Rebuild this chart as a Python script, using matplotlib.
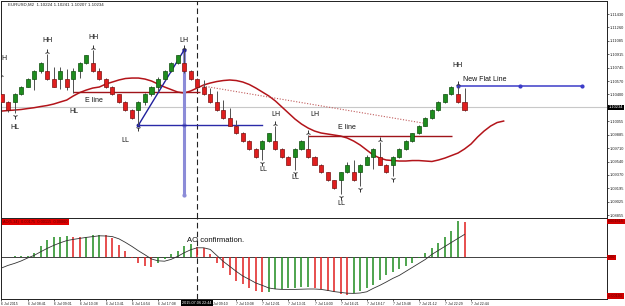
import numpy as np
import matplotlib
matplotlib.use("Agg")
from matplotlib import pyplot as plt
from matplotlib import transforms

plt.rcParams['font.family'] = ['Liberation Sans', 'DejaVu Sans']

# renko bricks (EURUSD, 10 pip bricks)
opens = [1.1040, 1.1030, 1.1030, 1.1040, 1.1050, 1.1060, 1.1070, 1.1070, 1.1060, 1.1060,
         1.1060, 1.1060, 1.1070, 1.1080, 1.1080, 1.1070, 1.1060, 1.1050, 1.1040, 1.1030,
         1.1020, 1.1020, 1.1030, 1.1040, 1.1050, 1.1060, 1.1070, 1.1080, 1.1080, 1.1070,
         1.1060, 1.1050, 1.1040, 1.1030, 1.1020, 1.1010, 1.1000, 1.0990, 1.0980, 1.0970,
         1.0970, 1.0980, 1.0980, 1.0970, 1.0960, 1.0960, 1.0970, 1.0970, 1.0960, 1.0950,
         1.0940, 1.0930, 1.0930, 1.0940, 1.0940, 1.0940, 1.0950, 1.0960, 1.0960, 1.0950,
         1.0950, 1.0960, 1.0970, 1.0980, 1.0990, 1.1000, 1.1010, 1.1020, 1.1030, 1.1040,
         1.1040, 1.1030]
closes = [1.1030, 1.1020, 1.1040, 1.1050, 1.1060, 1.1070, 1.1080, 1.1060, 1.1050, 1.1070,
          1.1050, 1.1070, 1.1080, 1.1090, 1.1070, 1.1060, 1.1050, 1.1040, 1.1030, 1.1020,
          1.1010, 1.1030, 1.1040, 1.1050, 1.1060, 1.1070, 1.1080, 1.1090, 1.1070, 1.1060,
          1.1050, 1.1040, 1.1030, 1.1020, 1.1010, 1.1000, 1.0990, 1.0980, 1.0970, 1.0960,
          1.0980, 1.0990, 1.0970, 1.0960, 1.0950, 1.0970, 1.0980, 1.0960, 1.0950, 1.0940,
          1.0930, 1.0920, 1.0940, 1.0950, 1.0930, 1.0950, 1.0960, 1.0970, 1.0950, 1.0940,
          1.0960, 1.0970, 1.0980, 1.0990, 1.1000, 1.1010, 1.1020, 1.1030, 1.1040, 1.1050,
          1.1030, 1.1020]
highs = [1.1062, 1.1032, 1.1042, 1.1051, 1.1061, 1.1071, 1.1081, 1.1092, 1.1075, 1.1075,
         1.1073, 1.1074, 1.1081, 1.1091, 1.1097, 1.1074, 1.1061, 1.1051, 1.1041, 1.1031,
         1.1021, 1.1031, 1.1042, 1.1051, 1.1062, 1.1071, 1.1081, 1.1091, 1.1097, 1.1071,
         1.1061, 1.1059, 1.1048, 1.1044, 1.1033, 1.1022, 1.1007, 1.0992, 1.0981, 1.0971,
         1.0981, 1.0991, 1.0999, 1.0971, 1.0961, 1.0971, 1.0981, 1.0988, 1.0961, 1.0951,
         1.0941, 1.0931, 1.0941, 1.0953, 1.0956, 1.0951, 1.0962, 1.0971, 1.0979, 1.0951,
         1.0961, 1.0971, 1.0981, 1.0991, 1.1001, 1.1011, 1.1021, 1.1031, 1.1041, 1.1051,
         1.1051, 1.1048]
lows = [1.1029, 1.1018, 1.1016, 1.1039, 1.1049, 1.1046, 1.1067, 1.1059, 1.1049, 1.1047,
        1.1046, 1.1042, 1.1061, 1.1079, 1.1069, 1.1058, 1.1048, 1.1039, 1.1029, 1.1019,
        1.1009, 1.1001, 1.1027, 1.1038, 1.1044, 1.1059, 1.1069, 1.1079, 1.1068, 1.1059,
        1.1049, 1.1039, 1.1029, 1.1019, 1.1009, 1.0999, 1.0989, 1.0979, 1.0969, 1.0959,
        1.0956, 1.0979, 1.0969, 1.0959, 1.0949, 1.0943, 1.0969, 1.0959, 1.0949, 1.0939,
        1.0929, 1.0919, 1.0913, 1.0939, 1.0929, 1.0923, 1.0949, 1.0945, 1.0949, 1.0939,
        1.0936, 1.0959, 1.0969, 1.0979, 1.0989, 1.0999, 1.1009, 1.1019, 1.1029, 1.1039,
        1.1029, 1.1019]

# shifted moving average (runs 6 bars past the last brick)
ma = [1.10187, 1.10194, 1.10200, 1.10207, 1.10219, 1.10230, 1.10245, 1.10258, 1.10277, 1.10303,
      1.10328, 1.10380, 1.10424, 1.10456, 1.10482, 1.10495, 1.10533, 1.10559, 1.10585, 1.10604,
      1.10610, 1.10610, 1.10597, 1.10572, 1.10533, 1.10495, 1.10463, 1.10431, 1.10418, 1.10444,
      1.10482, 1.10521, 1.10546, 1.10565, 1.10578, 1.10585, 1.10578, 1.10559, 1.10527, 1.10482,
      1.10431, 1.10380, 1.10316, 1.10239, 1.10162, 1.10085, 1.10021, 1.09970, 1.09931, 1.09906,
      1.09893, 1.09880, 1.09867, 1.09842, 1.09803, 1.09752, 1.09688, 1.09624, 1.09585, 1.09560,
      1.09553, 1.09547, 1.09547, 1.09553, 1.09553, 1.09547, 1.09541, 1.09560, 1.09585, 1.09617,
      1.09649, 1.09701, 1.09765, 1.09854, 1.09931, 1.09995, 1.10040, 1.10059]

# awesome oscillator + its signal, in points (1e-5)
ao = [3, 4, 5, 6, 8, 24, 57, 87, 100, 104, 105, 102, 100, 104, 112, 113, 110, 95, 62, 32,
      -3, -30, -44, -47, -30, -10, 15, 32, 59, 65, 54, 45, 15, -29, -55, -89, -117, -134, -155, -167,
      -175, -172, -160, -158, -155, -153, -150, -148, -153, -160, -168, -175, -183, -188, -180, -170,
      -155, -139, -114, -89, -72, -60, -44, -27, -5, 20, 45, 70, 100, 130, 180, 175]
ao_signal = [-53, -40, -30, -18, -3, 10, 28, 45, 60, 73, 84, 90, 95, 100, 104, 108, 107, 104, 93, 75,
             55, 33, 13, -8, -17, -19, -10, 5, 23, 38, 48, 48, 40, 10, -20, -45, -70, -93, -110, -128,
             -140, -153, -158, -160, -160, -160, -159, -158, -158, -160, -165, -171, -175, -179, -180,
             -178, -172, -155, -140, -123, -105, -90, -70, -50, -30, -10, 15, 35, 55, 75, 95, 115]

price_ticks = [1.11430, 1.11260, 1.11085, 1.10915, 1.10745, 1.10570, 1.10400, 1.10055,
               1.09885, 1.09710, 1.09540, 1.09370, 1.09195, 1.09025, 1.08855]
time_labels = ["6 Jul 2015", "6 Jul 08:41", "6 Jul 09:01", "6 Jul 10:38", "6 Jul 13:41",
               "6 Jul 14:54", "6 Jul 17:08", "", "7 Jul 09:10", "7 Jul 10:08", "7 Jul 12:01",
               "7 Jul 13:31", "7 Jul 14:00", "7 Jul 16:21", "7 Jul 18:17", "7 Jul 19:48",
               "7 Jul 21:12", "7 Jul 22:29", "7 Jul 22:44"]

last_price = 1.10234
marks = [("H", 0.45, 1.10866), ("HL", 2, 1.09970), ("HH", 7, 1.11097), ("HL", 11.1, 1.10175),
         ("E line", 14.1, 1.10328), ("HH", 14.1, 1.11135), ("LL", 19, 1.09816), ("LH", 28.05, 1.11097),
         ("LL", 40.1, 1.09444), ("LH", 42.1, 1.10149), ("LL", 45.05, 1.09342), ("LH", 48, 1.10149),
         ("E line", 53, 1.09982), ("LL", 52.1, 1.09009), ("HH", 70, 1.10777)]
up_arrows = [0, 7, 14, 28, 42, 47, 58, 70]
down_arrows = [2, 21, 40, 45, 52, 55, 60]

opens, closes, highs, lows = map(np.array, (opens, closes, highs, lows))
x = np.arange(len(opens))
W, H = 625, 306
fig = plt.figure(figsize=(W / 100, H / 100), dpi=100)
ax = fig.add_axes([1.5 / W, (H - 218) / H, (607 - 1.5) / W, 217 / H])
ax2 = fig.add_axes([1.5 / W, (H - 299) / H, (607 - 1.5) / W, 81 / H], sharex=ax)

ax.set_xlim(0.1, 92.85)
ax.set_ylim(1.08817, 1.11597)

# current price line
ax.axhline(last_price, color='#c8c8c8', lw=0.8, zorder=1)

# MA and E lines
ax.plot(np.arange(len(ma)), ma, color='#b3141a', lw=1.1, zorder=2)
ax.hlines(1.10426, 11, 30.5, color='#a0141a', lw=1.0, zorder=2)
ax.hlines(1.09867, 47, 69.1, color='#a0141a', lw=1.0, zorder=2)
ax.plot([30.9, 64.6], [1.10508, 1.10034], color='#c05a5a', lw=0.8, ls=(0, (1, 1.5)), zorder=2)

# blue study lines
ax.plot([28, 28], [1.10969, 1.09111], color='#8c8cd8', lw=2.2, zorder=2,
        marker='o', ms=2, markevery=[0, 1])
ax.plot([28], [1.10007], 'o', color='#6a6ac8', ms=2, zorder=3)
ax.plot([21, 28], [1.10007, 1.10969], color='#20209c', lw=1.0, zorder=4, marker='o', ms=1.8)
ax.plot([21, 40], [1.10007, 1.10007], color='#2a2aa8', lw=1.0, zorder=4)
ax.plot([70, 79.5, 89], [1.10508] * 3, color='#3c3cc8', lw=1.1, marker='o', ms=2, zorder=4)

# candles
up = closes >= opens
ax.vlines(x, lows, highs, color='#505050', lw=0.7, zorder=5)
ax.bar(x[up], (closes - opens)[up], bottom=opens[up], width=0.62,
       color='#1e8c1e', edgecolor='#0f4f0f', lw=0.5, zorder=6)
ax.bar(x[~up], (opens - closes)[~up], bottom=closes[~up], width=0.62,
       color='#e01e1e', edgecolor='#7a1010', lw=0.5, zorder=6)

# swing arrows and labels
ax.plot(up_arrows, highs[up_arrows] + 0.0003, ls='none', marker='2', ms=4,
        color='#333333', mew=0.7, zorder=7)
ax.plot(down_arrows, lows[down_arrows] - 0.0004, ls='none', marker='1', ms=4,
        color='#333333', mew=0.7, zorder=7)
for txt, bx, py in marks:
    ax.text(bx, py, txt, fontsize=5, ha='center', va='center', color='#111111', zorder=8)
ax.text(70.8, 1.10585, "New Flat Line", fontsize=5, ha='left', va='center', color='#111111')
ax.text(0.01, 0.993, "EURUSD,M2  1.10224 1.10241 1.10207 1.10234", transform=ax.transAxes,
        fontsize=3.2, ha='left', va='top', color='#222222')

# price axis
ax.yaxis.tick_right()
ax.set_yticks(price_ticks)
ax.set_yticklabels(["%.5f" % p for p in price_ticks])
ax.tick_params(axis='y', length=1.5, width=0.5, labelsize=2.9, pad=0.8, colors='#222222')
ax.tick_params(axis='x', bottom=False, labelbottom=False)
ytr = transforms.blended_transform_factory(ax.transAxes, ax.transData)
ax.text(1.0025, last_price, "%.5f" % last_price, transform=ytr, fontsize=2.9, color='white',
        ha='left', va='center', bbox=dict(boxstyle='square,pad=0.2', fc='black', ec='none'))

# AO panel
ao = np.array(ao)
ao_col = ['#1e8c1e' if i == 0 or ao[i] >= ao[i - 1] else '#e01e1e' for i in range(len(ao))]
ax2.set_ylim(-208, 197)
ax2.axhline(0, color='#404040', lw=0.7, zorder=1)
ax2.vlines(x, 0, ao, colors=ao_col, lw=1.1, zorder=2)
ax2.plot(x, ao_signal, color='#333333', lw=0.6, zorder=3)
ax2.text(28.4, 87, "AO confirmation.", fontsize=5.5, ha='left', va='center', color='#111111')
ax2.text(0.003, 0.955, "AO(5,34)  0.00175  0.00115  0.00060", transform=ax2.transAxes,
         fontsize=2.8, color='#6a0000', ha='left', va='center',
         bbox=dict(boxstyle='square,pad=0.25', fc='#e00000', ec='none'))
ytr2 = transforms.blended_transform_factory(ax2.transAxes, ax2.transData)
for v, s in [(180, "0.001815"), (0, "0.00"), (-192, "-0.00193")]:
    ax2.text(1.002, v, s, transform=ytr2, fontsize=2.7, color='#6a0000', ha='left', va='center',
             bbox=dict(boxstyle='square,pad=0.2', fc='#d00000', ec='none'))
ax2.set_yticks([])

ax2.set_xticks(np.arange(len(time_labels)) * 4)
ax2.set_xticklabels(time_labels, ha='left')
ax2.tick_params(axis='x', length=1.5, width=0.5, labelsize=2.6, pad=0.8, colors='#222222')
ax2.text(30, -0.02, "2015.07.06 22:44", zorder=10,
         transform=transforms.blended_transform_factory(ax2.transData, ax2.transAxes),
         fontsize=2.7, color='white', ha='center', va='top',
         bbox=dict(boxstyle='square,pad=0.25', fc='black', ec='none'))

for a in (ax, ax2):
    a.axvline(30, color='#222222', lw=0.8, ls=(0, (5, 3)), zorder=1)
    for s in a.spines.values():
        s.set_linewidth(0.7)
        s.set_color('#202020')

fig.savefig("out.png", dpi=100, facecolor='white')
